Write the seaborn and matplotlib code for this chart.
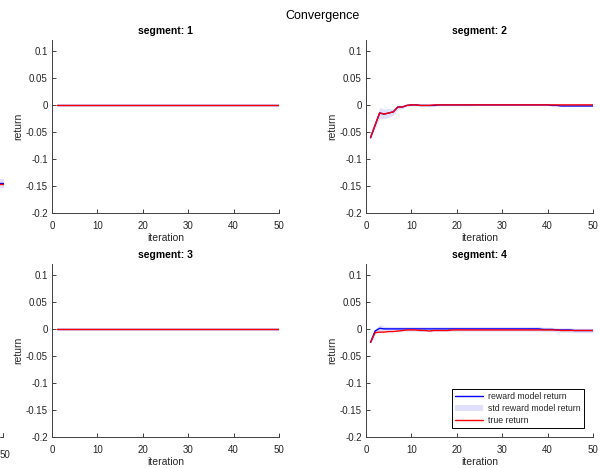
import numpy as np
import pandas as pd
import matplotlib
matplotlib.use("Agg")
import matplotlib.pyplot as plt
from matplotlib.patches import Patch, Rectangle
from matplotlib.lines import Line2D
import seaborn as sns

# ---- data ---------------------------------------------------------------
iterations = list(range(1, 51))

seg1_model = [0.0] * 50
seg1_std = [0.0005] * 50
seg1_true = [0.0] * 50

seg2_model = [-0.061, -0.038, -0.015, -0.017, -0.015, -0.013, -0.004, -0.004, -0.001, 0.000,
              0.000, -0.001, -0.001, -0.001, -0.001, 0.000, 0.000, 0.000, 0.000, 0.000,
              0.000, 0.000, 0.000, 0.000, 0.000, 0.000, 0.000, 0.000, 0.000, 0.000,
              0.000, 0.000, 0.000, 0.000, 0.000, 0.000, 0.000, 0.000, 0.000, 0.000,
              -0.001, -0.001, -0.002, -0.002, -0.002, -0.002, -0.002, -0.002, -0.002, -0.002]
seg2_std = [0.002, 0.005, 0.010, 0.009, 0.008, 0.006, 0.004, 0.003, 0.002, 0.002,
            0.002, 0.002, 0.002, 0.002, 0.002, 0.002, 0.002, 0.002, 0.002, 0.002,
            0.002, 0.002, 0.002, 0.001, 0.001, 0.001, 0.001, 0.001, 0.001, 0.001,
            0.001, 0.001, 0.001, 0.001, 0.001, 0.001, 0.001, 0.001, 0.001, 0.001,
            0.001, 0.001, 0.001, 0.001, 0.001, 0.001, 0.001, 0.001, 0.001, 0.001]
seg2_true = [-0.060, -0.037, -0.015, -0.017, -0.015, -0.013, -0.004, -0.004, -0.001, 0.000,
             0.000, -0.001, -0.001, -0.001, 0.000, 0.000, 0.000, 0.000, 0.000, 0.000,
             0.000, 0.000, 0.000, 0.000, 0.000, 0.000, 0.000, 0.000, 0.000, 0.000,
             0.000, 0.000, 0.000, 0.000, 0.000, 0.000, 0.000, 0.000, 0.000, 0.000,
             0.000, 0.000, 0.000, 0.000, 0.000, 0.000, 0.000, 0.000, 0.000, 0.000]

seg3_model = [0.0] * 50
seg3_std = [0.0005] * 50
seg3_true = [0.0] * 50

seg4_model = [-0.025, -0.004, 0.001, 0.000, 0.000, 0.000, 0.000, 0.000, 0.000, 0.000,
              0.000, 0.000, 0.000, 0.000, 0.000, 0.000, 0.000, 0.000, 0.000, 0.000,
              0.000, 0.000, 0.000, 0.000, 0.000, 0.000, 0.000, 0.000, 0.000, 0.000,
              0.000, 0.000, 0.000, 0.000, 0.000, 0.000, 0.000, 0.000, -0.001, -0.001,
              -0.001, -0.002, -0.002, -0.002, -0.002, -0.003, -0.003, -0.003, -0.003, -0.003]
seg4_std = [0.002, 0.004, 0.007, 0.005, 0.0045, 0.0045, 0.0045, 0.0045, 0.0045, 0.0045,
            0.0045, 0.0045, 0.0045, 0.0045, 0.0045, 0.0045, 0.0045, 0.0045, 0.0045, 0.0045,
            0.0045, 0.0045, 0.0045, 0.0045, 0.0045, 0.0045, 0.0045, 0.0045, 0.0045, 0.0045,
            0.0045, 0.0045, 0.0045, 0.0045, 0.0045, 0.0045, 0.0045, 0.0045, 0.004, 0.004,
            0.004, 0.004, 0.004, 0.004, 0.004, 0.004, 0.004, 0.004, 0.004, 0.004]
seg4_true = [-0.025, -0.007, -0.006, -0.006, -0.005, -0.005, -0.004, -0.003, -0.002, -0.002,
             -0.002, -0.003, -0.003, -0.004, -0.003, -0.003, -0.003, -0.003, -0.002, -0.002,
             -0.002, -0.002, -0.002, -0.002, -0.002, -0.002, -0.002, -0.002, -0.002, -0.002,
             -0.002, -0.002, -0.002, -0.002, -0.002, -0.002, -0.002, -0.002, -0.002, -0.002,
             -0.002, -0.002, -0.003, -0.003, -0.003, -0.003, -0.003, -0.003, -0.003, -0.003]

segments = [1, 2, 3, 4]
model_returns = [seg1_model, seg2_model, seg3_model, seg4_model]
model_stds = [seg1_std, seg2_std, seg3_std, seg4_std]
true_returns = [seg1_true, seg2_true, seg3_true, seg4_true]

x_ticks = [0, 10, 20, 30, 40, 50]
y_ticks = [-0.2, -0.15, -0.1, -0.05, 0, 0.05, 0.1]
y_tick_labels = ["-0.2", "-0.15", "-0.1", "-0.05", "0", "0.05", "0.1"]

# ---- style --------------------------------------------------------------
sns.set_theme(style="ticks")
plt.rcParams["font.family"] = ["Liberation Sans", "DejaVu Sans"]
plt.rcParams["axes.unicode_minus"] = False

BLUE = (0.0, 0.0, 1.0)
RED = (1.0, 0.0, 0.0)
BAND = (0.88, 0.88, 0.99)
AX_COL = "#404040"
TXT_COL = "#262626"

W, H = 600, 468
fig = plt.figure(figsize=(W / 100, H / 100), dpi=100)

# axes rectangles in pixel coordinates: (left, top, right, bottom)
rects = [(52, 40, 279, 213), (366, 40, 593, 213),
         (52, 264, 279, 437), (366, 264, 593, 437)]

for seg, rect, mr, sd, tr in zip(segments, rects, model_returns, model_stds, true_returns):
    l, t, r, b = rect
    ax = fig.add_axes([l / W, 1 - b / H, (r - l) / W, (b - t) / H])
    df = pd.DataFrame({"iteration": iterations, "model": mr, "std": sd, "true": tr})
    ax.fill_between(df["iteration"], df["model"] - df["std"], df["model"] + df["std"],
                    color=BAND, linewidth=0)
    sns.lineplot(data=df, x="iteration", y="model", color=BLUE, linewidth=1.0, ax=ax)
    sns.lineplot(data=df, x="iteration", y="true", color=RED, linewidth=1.0, ax=ax)

    ax.set_xlim(0, 50)
    ax.set_ylim(-0.2, 0.12)
    ax.set_xticks(x_ticks)
    ax.set_yticks(y_ticks)
    ax.set_yticklabels(y_tick_labels)
    ax.set_xlabel("iteration", fontsize=7.5, color=TXT_COL, labelpad=1)
    ax.set_ylabel("return", fontsize=7.5, color=TXT_COL, labelpad=2)
    ax.set_title(f"segment: {seg}", fontsize=7.5, fontweight="bold", pad=4, color="black")
    ax.tick_params(direction="in", length=3, width=0.7, labelsize=7, colors=AX_COL,
                   labelcolor=TXT_COL, pad=3)
    ax.tick_params(axis="x", pad=6)
    for side in ("top", "right"):
        ax.spines[side].set_visible(False)
    for side in ("left", "bottom"):
        ax.spines[side].set_color(AX_COL)
        ax.spines[side].set_linewidth(0.7)
    ax.set_facecolor("white")

    if seg == 4:
        handles = [Line2D([], [], color=BLUE, linewidth=1.0),
                   Patch(facecolor=BAND, edgecolor="none"),
                   Line2D([], [], color=RED, linewidth=1.0)]
        labels = ["reward model return", "std reward model return", "true return"]
        leg = ax.legend(handles, labels, loc="lower right", fontsize=6.3, frameon=True,
                        fancybox=False, edgecolor="black", framealpha=1,
                        handlelength=3.2, handletextpad=0.6, borderpad=0.35,
                        labelspacing=0.35, bbox_to_anchor=(0.98, 0.025))
        leg.get_frame().set_linewidth(0.7)

fig.text(322 / W, 1 - 16 / H, "Convergence", ha="center", va="center", fontsize=9, color="black")

# fragments of a neighbouring panel along the left edge
fig.text(0, 1 - 455 / H, "50", ha="left", va="center", fontsize=7, color=TXT_COL)
fig.add_artist(Rectangle((0, 1 - 188 / H), 4 / W, 9 / H, transform=fig.transFigure,
                         facecolor=BAND, edgecolor="none"))
fig.add_artist(Line2D([0, 3 / W], [1 - 182.5 / H] * 2, transform=fig.transFigure,
                      color=BLUE, linewidth=1.0))
fig.add_artist(Line2D([0, 3 / W], [1 - 183.5 / H] * 2, transform=fig.transFigure,
                      color=RED, linewidth=1.0))
fig.add_artist(Line2D([0, 3 / W, 3 / W], [1 - 437 / H, 1 - 437 / H, 1 - 433 / H],
                      transform=fig.transFigure, color=AX_COL, linewidth=0.7))

fig.savefig("out.png", dpi=100, facecolor="white")
